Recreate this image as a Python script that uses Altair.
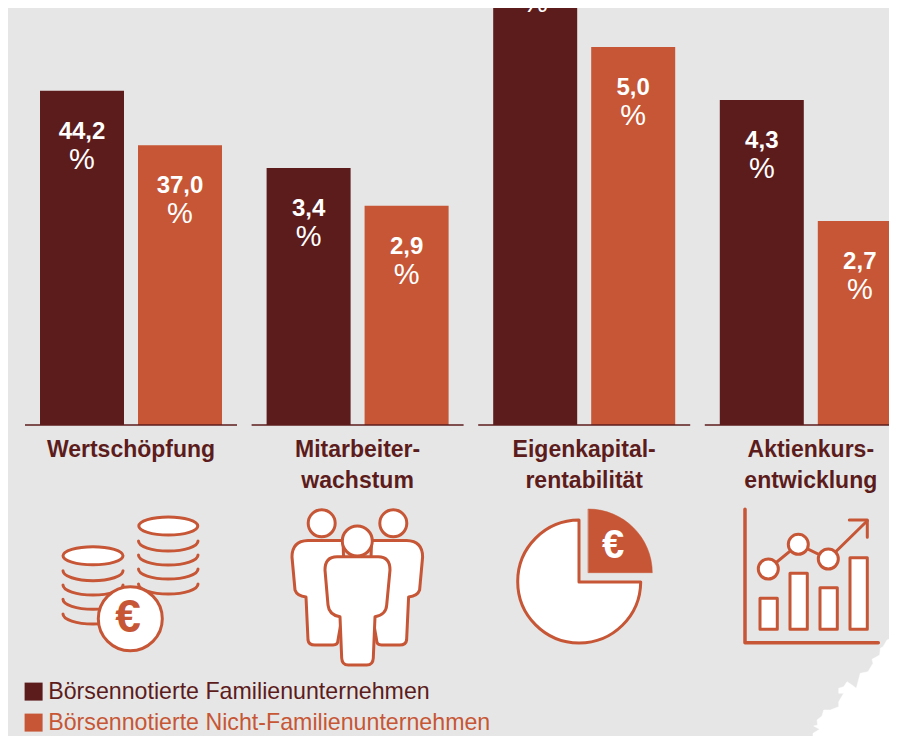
import altair as alt
import pandas as pd

DARK = "#5C1C1C"
ORANGE = "#C65635"
BG = "#E6E6E6"

panels = ["Wertschöpfung", "Mitarbeiterwachstum", "Eigenkapitalrentabilität", "Aktienkursentwicklung"]
panel_labels = ["Wertschöpfung", "Mitarbeiter-\nwachstum", "Eigenkapital-\nrentabilität", "Aktienkurs-\nentwicklung"]
series = ["Börsennotierte Familienunternehmen", "Börsennotierte Nicht-Familienunternehmen"]
values_family = [44.2, 3.4, 6.5, 4.3]
values_nonfamily = [37.0, 2.9, 5.0, 2.7]
# the first panel is drawn at a tenth of the scale of the others
panel_divisor = [10, 1, 1, 1]

rows = []
for name, a, b, d in zip(panels, values_family, values_nonfamily, panel_divisor):
    for s, v in zip(series, (a, b)):
        rows.append({"panel": name, "series": s, "value": v, "drawn": v / d,
                     "label": f"{v:.1f}".replace(".", ",")})
df = pd.DataFrame(rows)
labels_df = pd.DataFrame({"panel": panels, "label": panel_labels, "zero": [0, 0, 0, 0]})

x_scale = alt.Scale(domain=panels, range=[32, 893.8], paddingInner=0.1968, paddingOuter=0)
x_off = alt.Scale(domain=series, paddingInner=14 / 98, paddingOuter=0)
y_scale = alt.Scale(domain=[0, 10], range=[417, -339], nice=False, zero=True)
X = alt.X("panel:N", scale=x_scale, axis=None, title=None)
XO = alt.XOffset("series:N", scale=x_off)
Y = alt.Y("drawn:Q", scale=y_scale, axis=None, title=None)

bars = alt.Chart(df).mark_bar(cornerRadius=0).encode(
    x=X, xOffset=XO, y=Y,
    y2=alt.Y2(datum=0),
    color=alt.Color(
        "series:N",
        scale=alt.Scale(domain=series, range=[DARK, ORANGE]),
        title=None,
        legend=alt.Legend(
            orient="none", legendX=14, legendY=672, symbolType="square", symbolSize=324,
            symbolStrokeWidth=0, symbolOpacity=1, labelFont="Liberation Sans", labelFontSize=23.2,
            labelLimit=600, labelOffset=3, rowPadding=7, padding=0,
            labelColor=alt.expr(f"indexof(datum.label, 'Nicht') >= 0 ? '{ORANGE}' : '{DARK}'"),
        ),
    ),
)

numbers = alt.Chart(df).mark_text(font="Liberation Sans", fontWeight="bold", fontSize=24, color="white",
                                  baseline="middle", dy=41).encode(x=X, xOffset=XO, y=Y, text="label:N")
percents = alt.Chart(df).mark_text(font="Liberation Sans", fontSize=29, color="white",
                                   baseline="middle", dy=69, text="%").encode(x=X, xOffset=XO, y=Y)

baseline = alt.Chart(labels_df).mark_tick(orient="horizontal", size=212, thickness=1.5, color=DARK, opacity=1).encode(
    x=X, y=alt.Y("zero:Q", scale=y_scale, axis=None))

cat_text = alt.Chart(labels_df).mark_text(font="Liberation Sans", fontWeight="bold", fontSize=23, color=DARK,
                                          lineBreak="\n", lineHeight=31, baseline="top").encode(
    x=X, y=alt.value(431), text="label:N")


def circle(cx, cy, r):
    return f"M{cx-r} {cy}A{r} {r} 0 1 1 {cx+r} {cy}A{r} {r} 0 1 1 {cx-r} {cy}Z"


def ellipse(cx, cy, rx, ry):
    return f"M{cx-rx} {cy}A{rx} {ry} 0 1 1 {cx+rx} {cy}A{rx} {ry} 0 1 1 {cx-rx} {cy}Z"


def arc(x0, x1, y):
    return f"M{x0} {y}A{(x1-x0)/2} 10 0 0 0 {x1} {y}"


def back_body(m):
    pts = [(343, 540.5), (308, 540.5), (292, 541), (292, 557), (295, 590), (297, 596), (306, 597), (308, 640),
           (308.5, 645), (315, 645), (333, 645), (338, 645), (338, 640), (345, 600)]
    p = [(714.6 - x if m else x, y) for x, y in pts]
    return (f"M{p[0][0]} {p[0][1]}L{p[1][0]} {p[1][1]}Q{p[2][0]} {p[2][1]} {p[3][0]} {p[3][1]}L{p[4][0]} {p[4][1]}"
            f"Q{p[5][0]} {p[5][1]} {p[6][0]} {p[6][1]}L{p[7][0]} {p[7][1]}Q{p[8][0]} {p[8][1]} {p[9][0]} {p[9][1]}"
            f"L{p[10][0]} {p[10][1]}Q{p[11][0]} {p[11][1]} {p[12][0]} {p[12][1]}L{p[13][0]} {p[13][1]}Z")


front_body = ("M337 556.7Q325 556.7 325 570L328 605Q329 615 340 616.7L341.7 658Q342 665 348.3 665L366.7 665"
              "Q373 665 373.3 658L375 616.7Q386 615 386.7 605L390 570Q390 556.7 378.3 556.7Z")

tear_zoom = [(300, 18), (270, 30), (258, 50), (250, 55), (248, 75), (225, 88), (228, 100), (213, 125), (190, 130),
             (178, 175), (165, 165), (150, 155), (140, 170), (125, 175), (125, 190), (140, 190), (125, 215),
             (125, 230), (100, 240), (80, 240), (75, 258), (60, 270), (62, 285), (50, 288), (68, 298), (48, 310),
             (48, 320), (300, 320)]
tear = "M" + "L".join(f"{797 + x / 3:.1f} {630 + y / 3:.1f}" for x, y in tear_zoom) + "Z"

# decoration: (svg path in page pixels, fill, stroke, stroke width)
W = "white"
icon_parts = []
for y in [541, 555, 569, 584]:
    icon_parts.append((arc(138.5, 198, y), None, ORANGE, 3))
for y in [570.7, 585, 599.3, 614]:
    icon_parts.append((arc(63, 123, y), None, ORANGE, 3))
icon_parts += [
    (ellipse(168.3, 526, 29.5, 9), W, ORANGE, 3),
    (ellipse(93, 555.7, 30, 9), W, ORANGE, 3),
    (circle(130.3, 618.7, 32), W, ORANGE, 3),
    (back_body(False), W, ORANGE, 3),
    (back_body(True), W, ORANGE, 3),
    (circle(321.7, 523.3, 13.5), W, ORANGE, 3),
    (circle(393.3, 523.3, 13.5), W, ORANGE, 3),
    (front_body, W, ORANGE, 3),
    (circle(357.3, 541, 15), W, ORANGE, 3),
    ("M579 520A61.5 61.5 0 1 0 640.7 582L579 582Z", W, ORANGE, 3),
    ("M588.3 509A64 64 0 0 1 652.3 572.7L588.3 572.7Z", ORANGE, ORANGE, 0.5),
    ("M745 509.3L745 642.7L878.3 642.7", None, ORANGE, 3.5),
    ("M760 598.3H777.3V629.3H760Z", W, ORANGE, 3),
    ("M790 573.3H807.3V629.3H790Z", W, ORANGE, 3),
    ("M820 587.7H837.3V629.3H820Z", W, ORANGE, 3),
    ("M850 557.7H867.3V629.3H850Z", W, ORANGE, 3),
    ("M768.3 569L798.3 544.3L828.3 559L867.3 520.7", None, ORANGE, 3),
    ("M849.3 520H867.3V537.3", None, ORANGE, 3),
    (circle(768.3, 569, 10), W, ORANGE, 3),
    (circle(798.3, 544.3, 10), W, ORANGE, 3),
    (circle(828.3, 559, 10), W, ORANGE, 3),
    (tear, W, W, 0.5),
]

anchor = pd.DataFrame({"a": [0]})
icons = []
for path, fill, stroke, sw in icon_parts:
    kw = dict(shape=path, size=4, stroke=stroke, strokeWidth=sw, opacity=1, strokeCap="round", strokeJoin="round")
    if fill is None:
        kw.update(filled=False)
    else:
        kw.update(filled=True, fill=fill)
    icons.append(alt.Chart(anchor).mark_point(**kw).encode(x=alt.value(-8), y=alt.value(-8)))

euro_coin = alt.Chart(anchor).mark_text(text="€", font="Liberation Sans", fontWeight="bold", fontSize=46, color=ORANGE,
                                        baseline="middle").encode(x=alt.value(120), y=alt.value(610))
euro_pie = alt.Chart(anchor).mark_text(text="€", font="Liberation Sans", fontWeight="bold", fontSize=40, color="white",
                                       baseline="middle").encode(x=alt.value(605), y=alt.value(538))

chart = alt.layer(bars, baseline, numbers, percents, cat_text, *icons, euro_coin, euro_pie).properties(
    width=881, height=728, padding=0, background=BG,
    autosize=alt.AutoSizeParams(type="none"),
).configure_view(stroke=None).resolve_scale(x="shared", y="shared")

chart.save("out.html", embed_options={"renderer": "svg", "actions": False})
